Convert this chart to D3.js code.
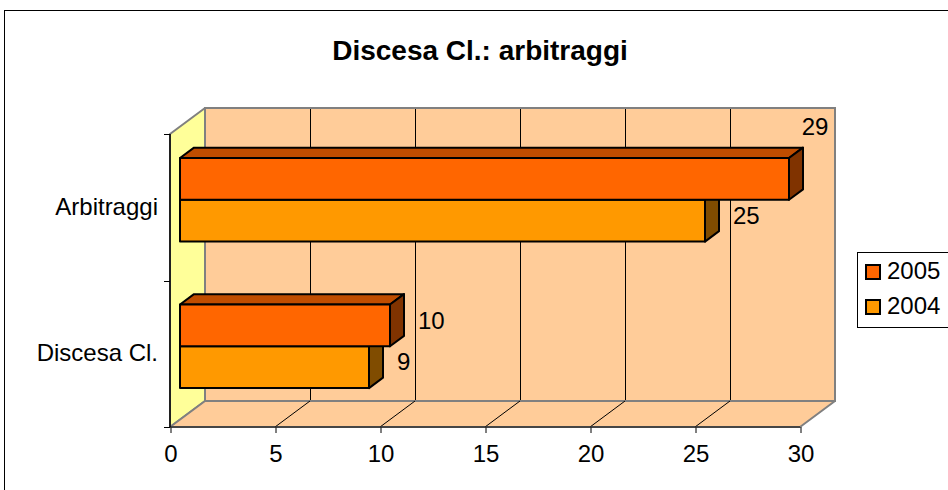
<!DOCTYPE html>
<html>
<head>
<meta charset="utf-8">
<script src="https://cdn.jsdelivr.net/npm/d3@7"></script>
<style>
  html, body { margin: 0; padding: 0; background: #fff; }
  svg { display: block; font-family: Arial, "Liberation Sans", sans-serif; }
</style>
</head>
<body>
<svg id="chart" width="948" height="490"></svg>
<script>
// ---- data ----
const title = "Discesa Cl.: arbitraggi";
const categories = ["Arbitraggi", "Discesa Cl."];
const seriesNames = ["2005", "2004"];
const values2005 = [29, 10];
const values2004 = [25, 9];
const xTicks = [0, 5, 10, 15, 20, 25, 30];

// ---- styles ----
const colors = {
  "2005": { front: "#FF6600", top: "#C04D00", side: "#803300" },
  "2004": { front: "#FF9900", top: "#C07300", side: "#804C00" }
};
const wallColor = "#FFCC99", sideWallColor = "#FFFF99", edgeGray = "#808080";

const svg = d3.select("#chart");

// outer frame
svg.append("rect").attr("x", 4.5).attr("y", 10.5).attr("width", 980).attr("height", 520)
  .attr("fill", "#fff").attr("stroke", "#000").attr("stroke-width", 1);

// title
svg.append("text").attr("x", 480).attr("y", 60).attr("text-anchor", "middle")
  .attr("font-size", 28).attr("font-weight", "bold").text(title);

// ---- geometry ----
const front = { left: 170, right: 800, top: 134, bottom: 427 };
const depth = { dx: 35, dy: -26 };
const x = d3.scaleLinear().domain([0, 30]).range([front.left, front.right]);
const y = d3.scaleBand().domain(categories).range([front.top, front.bottom])
  .paddingInner(0.43).paddingOuter(0.215);
const ys = d3.scaleBand().domain(seriesNames).range([0, y.bandwidth()]);
const off = f => [depth.dx * f, depth.dy * f];
const barF0 = 10 / 35, barF1 = 24 / 35;
const crisp = v => Math.round(v) + 0.5;

const g = svg.append("g");
const pts = a => a.map(p => p.join(",")).join(" ");

// left wall
const [bx, by] = off(1);
g.append("polygon").attr("points", pts([
  [front.left, front.bottom], [front.left, front.top],
  [front.left + bx, front.top + by], [front.left + bx, front.bottom + by]
])).attr("fill", sideWallColor).attr("stroke", edgeGray).attr("stroke-width", 2).attr("stroke-linejoin", "round");

// back wall
g.append("rect").attr("x", front.left + bx).attr("y", front.top + by)
  .attr("width", front.right - front.left).attr("height", front.bottom - front.top)
  .attr("fill", wallColor).attr("stroke", edgeGray).attr("stroke-width", 2);

// floor
g.append("polygon").attr("points", pts([
  [front.left, front.bottom], [front.right, front.bottom],
  [front.right + bx, front.bottom + by], [front.left + bx, front.bottom + by]
])).attr("fill", wallColor).attr("stroke", edgeGray).attr("stroke-width", 2).attr("stroke-linejoin", "round");

// gridlines (back wall + floor)
const inner = xTicks.filter(t => t > 0 && t < 30);
g.selectAll(".gv").data(inner).join("line")
  .attr("x1", d => crisp(x(d) + bx)).attr("x2", d => crisp(x(d) + bx))
  .attr("y1", front.top + by + 1).attr("y2", front.bottom + by - 1)
  .attr("stroke", "#000").attr("stroke-width", 1);
g.selectAll(".gf").data(inner).join("line")
  .attr("x1", d => x(d)).attr("y1", front.bottom)
  .attr("x2", d => x(d) + bx).attr("y2", front.bottom + by)
  .attr("stroke", "#000").attr("stroke-width", 1);

// axes
const xAxis = d3.axisBottom(x).tickValues(xTicks).tickSize(6).tickSizeOuter(0).tickPadding(12);
const xg = svg.append("g").attr("transform", `translate(0.5,${front.bottom})`).call(xAxis);
xg.select(".domain").remove();
xg.selectAll("text").attr("font-size", 24).attr("font-family", "Arial, 'Liberation Sans', sans-serif").attr("fill", "#000");
xg.selectAll("line").attr("stroke", "#000");
svg.append("line").attr("x1", front.left).attr("x2", front.right)
  .attr("y1", front.bottom).attr("y2", front.bottom).attr("stroke", "#333").attr("stroke-width", 1.5);

const yAxis = d3.axisLeft(y).tickSize(0).tickPadding(12);
const yg = svg.append("g").attr("transform", `translate(${front.left},0)`).call(yAxis);
yg.select(".domain").remove();
yg.selectAll("text").attr("font-size", 24).attr("font-family", "Arial, 'Liberation Sans', sans-serif").attr("fill", "#000");
svg.append("line").attr("x1", front.left).attr("x2", front.left)
  .attr("y1", front.top).attr("y2", front.bottom).attr("stroke", "#000").attr("stroke-width", 1.5);
// category boundary ticks
const bounds = [front.top, ...categories.slice(1).map(c => y(c) - y.step() * y.paddingInner() / 2), front.bottom];
svg.selectAll(".ct").data(bounds).join("line")
  .attr("x1", front.left - 6).attr("x2", front.left)
  .attr("y1", d => crisp(d)).attr("y2", d => crisp(d)).attr("stroke", "#000").attr("stroke-width", 1);

// ---- bars ----
const bars = [];
categories.forEach((c, i) => {
  bars.push({ cat: c, s: "2004", v: values2004[i] });
  bars.push({ cat: c, s: "2005", v: values2005[i] });
});
const [f0x, f0y] = off(barF0), [f1x, f1y] = off(barF1);
const bg = svg.append("g");
bars.forEach(b => {
  const x0 = x(0) + f0x, x1 = x(b.v) + f0x;
  const y0 = y(b.cat) + ys(b.s) + f0y, y1 = y0 + ys.bandwidth();
  const dx = f1x - f0x, dy = f1y - f0y;
  const col = colors[b.s];
  const st = sel => sel.attr("stroke", "#000").attr("stroke-width", 2).attr("stroke-linejoin", "round");
  st(bg.append("polygon").attr("points", pts([[x0, y0], [x1, y0], [x1 + dx, y0 + dy], [x0 + dx, y0 + dy]])).attr("fill", col.top));
  st(bg.append("polygon").attr("points", pts([[x1, y0], [x1 + dx, y0 + dy], [x1 + dx, y1 + dy], [x1, y1]])).attr("fill", col.side));
  st(bg.append("rect").attr("x", x0).attr("y", y0).attr("width", x1 - x0).attr("height", y1 - y0).attr("fill", col.front));
  b.geom = { x1, y0, y1, dx, dy };
});

// ---- data labels ----
const wallRight = front.right + bx;
bars.forEach(b => {
  const { x1, y0, y1, dx, dy } = b.geom;
  const txt = String(b.v);
  const w = txt.length * 0.556 * 24;
  let lx = x1 + dx + 14, ly = (y0 + y1) / 2 + dy / 2, anchor = "start", base = "0.35em";
  if (lx + w > wallRight) {
    lx = x1 + dx + 12; ly = y0 + dy - 13; anchor = "middle"; base = "0";
  }
  svg.append("text").attr("x", lx).attr("y", ly).attr("dy", base)
    .attr("text-anchor", anchor).attr("font-size", 24).text(txt);
});

// ---- legend ----
const lg = svg.append("g");
lg.append("rect").attr("x", 857.5).attr("y", 252.5).attr("width", 110).attr("height", 75)
  .attr("fill", "#fff").attr("stroke", "#000").attr("stroke-width", 1);
seriesNames.forEach((s, i) => {
  const yy = 265 + i * 35;
  lg.append("rect").attr("x", 866).attr("y", yy).attr("width", 14).attr("height", 14)
    .attr("fill", colors[s].front).attr("stroke", "#000").attr("stroke-width", 2);
  lg.append("text").attr("x", 887).attr("y", yy + 14).attr("font-size", 24).text(s);
});
</script>
</body>
</html>
